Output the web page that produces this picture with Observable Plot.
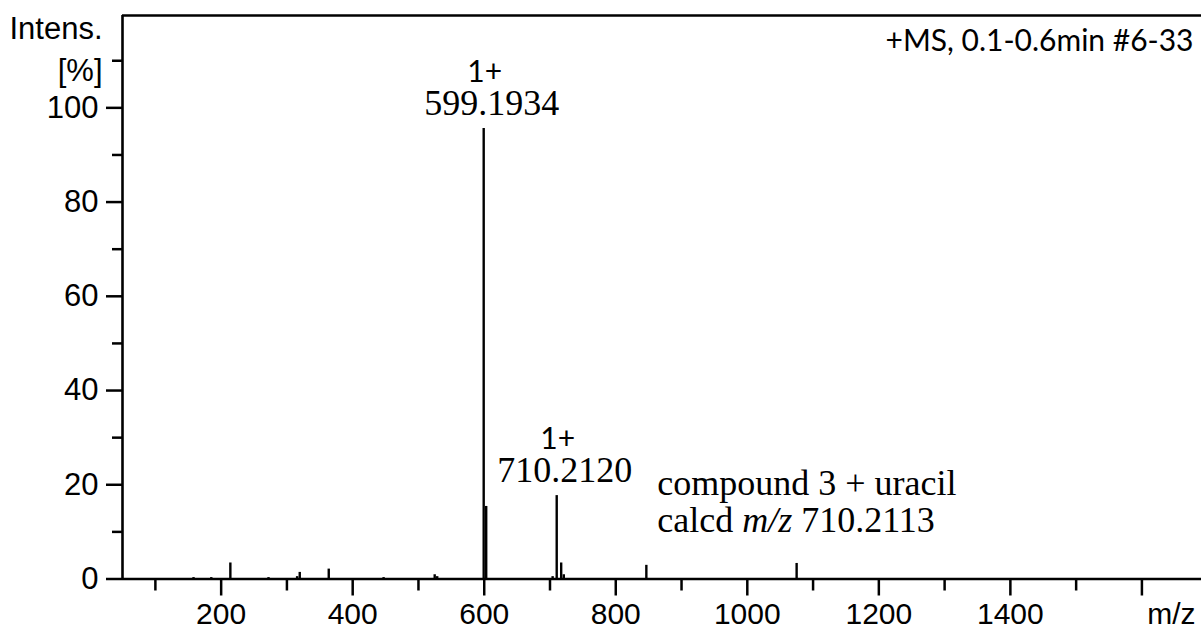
<!DOCTYPE html>
<html>
<head>
<meta charset="utf-8">
<script src="https://cdn.jsdelivr.net/npm/d3@7"></script>
<script src="https://cdn.jsdelivr.net/npm/@observablehq/plot@0.6"></script>
<style>
  html, body { margin: 0; padding: 0; background: #fff; }
  #chart svg { display: block; }
</style>
</head>
<body>
<div id="chart"></div>
<script>
// Centroided peak list: m/z and relative intensity [%]
const peakMz        = [158, 185, 214, 272, 315.5, 319.5, 363.6, 447, 524.7, 528.5, 599.1934, 603, 704, 710.2120, 717, 721, 846.5, 1075];
const peakIntensity = [0.3, 0.3, 3.4, 0.3, 0.5,   1.4,   2.1,   0.3, 0.9,   0.5,   95.6,     15.4, 0.5, 17.7,     3.4, 0.9, 2.9,  3.3];

// Annotated peaks (charge state above the measured m/z)
const labeledMz     = [599.1934, 710.2120];
const labeledCharge = ["1+", "1+"];

// Note for the adduct ion
const annotationTitle = "compound 3 + uracil";
const calcdMz = 710.2113;

// Axis ticks
const xMajorTicks = [200, 400, 600, 800, 1000, 1200, 1400, 1600];
const xMinorTicks = [100, 300, 500, 700, 900, 1100, 1300, 1500];
const xLabelMax = 1400;
const yMajorTicks = [0, 20, 40, 60, 80, 100];
const yMinorTicks = [10, 30, 50, 70, 90, 110];

const xDomain = [50, 1690.6];
const yDomain = [0, 119.6];

const spectrumInfo = "+MS, 0.1-0.6min #6-33";
const yTitle = "Intens.";
const yUnit = "[%]";
const xTitle = "m/z";

const peaks = peakMz.map((mz, i) => ({mz, intensity: peakIntensity[i]}));
const labels = labeledMz.map((mz, i) => ({
  mz,
  intensity: peaks.find(p => p.mz === mz).intensity,
  charge: labeledCharge[i],
  text: mz.toFixed(4)
}));
const calcdLine = `calcd m/z ${calcdMz.toFixed(4)}`;
const adduct = labels[1];

const sans = "'Liberation Sans', Arial, sans-serif";
const serif = "'Liberation Serif', 'Times New Roman', serif";
const humanist = "Lato, 'Open Sans', sans-serif";

const chart = Plot.plot({
  width: 1201,
  height: 631,
  marginLeft: 122,
  marginRight: 0,
  marginTop: 15,
  marginBottom: 52.5,
  style: {background: "#fff", color: "#000", fontFamily: sans},
  x: {domain: xDomain, axis: null},
  y: {domain: yDomain, axis: null},
  marks: [
    // minor and major ticks
    Plot.axisX({ticks: xMinorTicks, tickSize: 12, tickFormat: () => "", strokeWidth: 2.5, label: null}),
    Plot.axisX({ticks: xMajorTicks, tickSize: 17, tickPadding: 7, strokeWidth: 2.5, label: null,
      tickFormat: d => d <= xLabelMax ? String(d) : "", fontSize: 30, fontFamily: sans}),
    Plot.axisY({ticks: yMinorTicks, tickSize: 10, tickFormat: () => "", strokeWidth: 2.5, label: null}),
    Plot.axisY({ticks: yMajorTicks, tickSize: 16, tickPadding: 8, strokeWidth: 2.5, label: null,
      fontSize: 31, fontFamily: sans}),
    // spectrum sticks
    Plot.ruleX(peaks, {x: "mz", y1: 0, y2: "intensity", stroke: "#000", strokeWidth: 2.4}),
    // frame lines
    Plot.ruleY([0], {stroke: "#000", strokeWidth: 2.6}),
    Plot.ruleX([xDomain[0]], {stroke: "#000", strokeWidth: 2.6}),
    Plot.ruleY([yDomain[1]], {stroke: "#000", strokeWidth: 2.6}),
    // peak labels
    Plot.text(labels, {x: "mz", y: "intensity", text: "text", lineAnchor: "bottom", dx: 8, dy: -13.5,
      fontFamily: serif, fontSize: 36, fill: "#000"}),
    Plot.text(labels, {x: "mz", y: "intensity", text: "charge", lineAnchor: "bottom", dx: 1, dy: -47,
      fontFamily: humanist, fontSize: 30, fill: "#000"}),
    // adduct note, beside the 710 peak
    Plot.text([adduct], {x: "mz", y: "intensity", text: () => annotationTitle, textAnchor: "start",
      lineAnchor: "bottom", dx: 100.5, dy: -1, fontFamily: serif, fontSize: 36, fill: "#000"}),
    Plot.text([adduct], {x: "mz", y: "intensity", text: () => calcdLine, textAnchor: "start",
      lineAnchor: "bottom", dx: 100.5, dy: 36, fontFamily: serif, fontSize: 36, fill: "#000"}),
    // axis titles and acquisition info
    Plot.text([yTitle], {frameAnchor: "top-left", textAnchor: "end", lineAnchor: "bottom", dx: -20, dy: 23,
      fontFamily: sans, fontSize: 31, fill: "#000"}),
    Plot.text([yUnit], {y: [110], frameAnchor: "left", textAnchor: "end", lineAnchor: "bottom", dx: -20, dy: 20,
      fontFamily: sans, fontSize: 31, fill: "#000"}),
    Plot.text([xTitle], {frameAnchor: "bottom-right", textAnchor: "end", lineAnchor: "top", dx: -6, dy: 24,
      fontFamily: sans, fontSize: 30, fill: "#000"}),
    Plot.text([spectrumInfo], {frameAnchor: "top-right", textAnchor: "end", lineAnchor: "bottom", dx: -8, dy: 35,
      fontFamily: humanist, fontSize: 30, fill: "#000"})
  ]
});

// Set "m/z" in italics inside the calculated-mass line
d3.select(chart).selectAll("text").filter(function () { return this.textContent === calcdLine; })
  .each(function () {
    const t = d3.select(this);
    t.text(null);
    t.append("tspan").text("calcd ");
    t.append("tspan").attr("font-style", "italic").text("m/z");
    t.append("tspan").text(" " + calcdMz.toFixed(4));
  });

document.getElementById("chart").append(chart);
</script>
</body>
</html>
